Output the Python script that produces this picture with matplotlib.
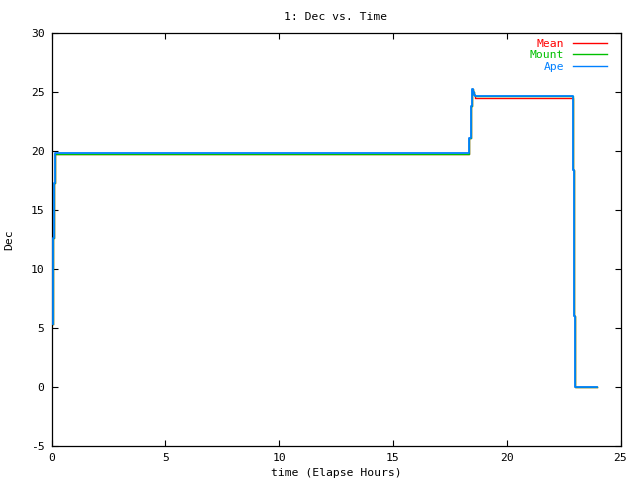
import matplotlib
matplotlib.use("Agg")
import matplotlib.pyplot as plt

# Data (elapsed hours, Dec) - step samples
mean_t = [0.06, 0.06, 0.1, 0.14, 18.36, 18.42, 18.46, 18.53, 18.58, 18.62, 22.93, 22.97, 23.01, 23.95]
mean_v = [5.35, 12.6, 17.3, 19.76, 21.1, 23.8, 25.25, 25.0, 24.7, 24.5, 18.4, 6.06, 0.0, 0.0]

mount_t = [0.06, 0.06, 0.1, 0.14, 18.34, 18.42, 18.46, 18.52, 18.57, 18.62, 22.93, 22.97, 23.01, 23.95]
mount_v = [5.35, 12.6, 17.3, 19.72, 21.1, 23.8, 25.2, 25.0, 24.7, 24.6, 18.4, 6.06, 0.0, 0.0]

ape_t = [0.06, 0.06, 0.1, 0.14, 18.36, 18.42, 18.46, 18.53, 18.58, 18.62, 22.93, 22.97, 23.01, 23.95]
ape_v = [5.35, 12.6, 17.3, 19.8, 21.1, 23.8, 25.25, 25.0, 24.7, 24.62, 18.4, 6.06, 0.0, 0.0]

xticks = [0, 5, 10, 15, 20, 25]
yticks = [-5, 0, 5, 10, 15, 20, 25, 30]

plt.rcParams['font.family'] = ['DejaVu Sans Mono']
plt.rcParams['font.size'] = 8.2
plt.rcParams['axes.unicode_minus'] = False

fig = plt.figure(figsize=(6.4, 4.8), dpi=100)
ax = fig.add_axes([51.5 / 640, 1 - 446.3 / 480, (620.5 - 51.5) / 640, (446.3 - 32.5) / 480])

ax.plot(mean_t, mean_v, drawstyle='steps-post', color='#ff0000', lw=1.0, label='Mean', zorder=3)
ax.plot(mount_t, mount_v, drawstyle='steps-post', color='#00c000', lw=1.0, label='Mount', zorder=3)
ax.plot(ape_t, ape_v, drawstyle='steps-post', color='#0080ff', lw=1.3, label='Ape', zorder=3)

ax.set_xlim(0, 25)
ax.set_ylim(-5, 30)
ax.set_xticks(xticks)
ax.set_yticks(yticks)
ax.tick_params(direction='in', length=4.5, width=0.8, top=True, right=True, pad=5, colors='black')
for s in ax.spines.values():
    s.set_linewidth(0.9)
    s.set_zorder(2.5)

ax.set_title('1: Dec vs. Time', fontsize=8.2, pad=9)
ax.set_xlabel('time (Elapse Hours)', labelpad=3.5)
ax.set_ylabel('Dec', labelpad=12)

leg = ax.legend(loc='upper right', frameon=False, markerfirst=False, labelcolor='linecolor',
                handlelength=3.0, handletextpad=0.75, labelspacing=0.12, borderaxespad=0.3,
                bbox_to_anchor=(0.99, 1.004))
for t in leg.get_texts():
    t.set_ha('right')
for h in leg.get_lines():
    h.set_linewidth(1.0)

fig.savefig('out.png', dpi=100)
